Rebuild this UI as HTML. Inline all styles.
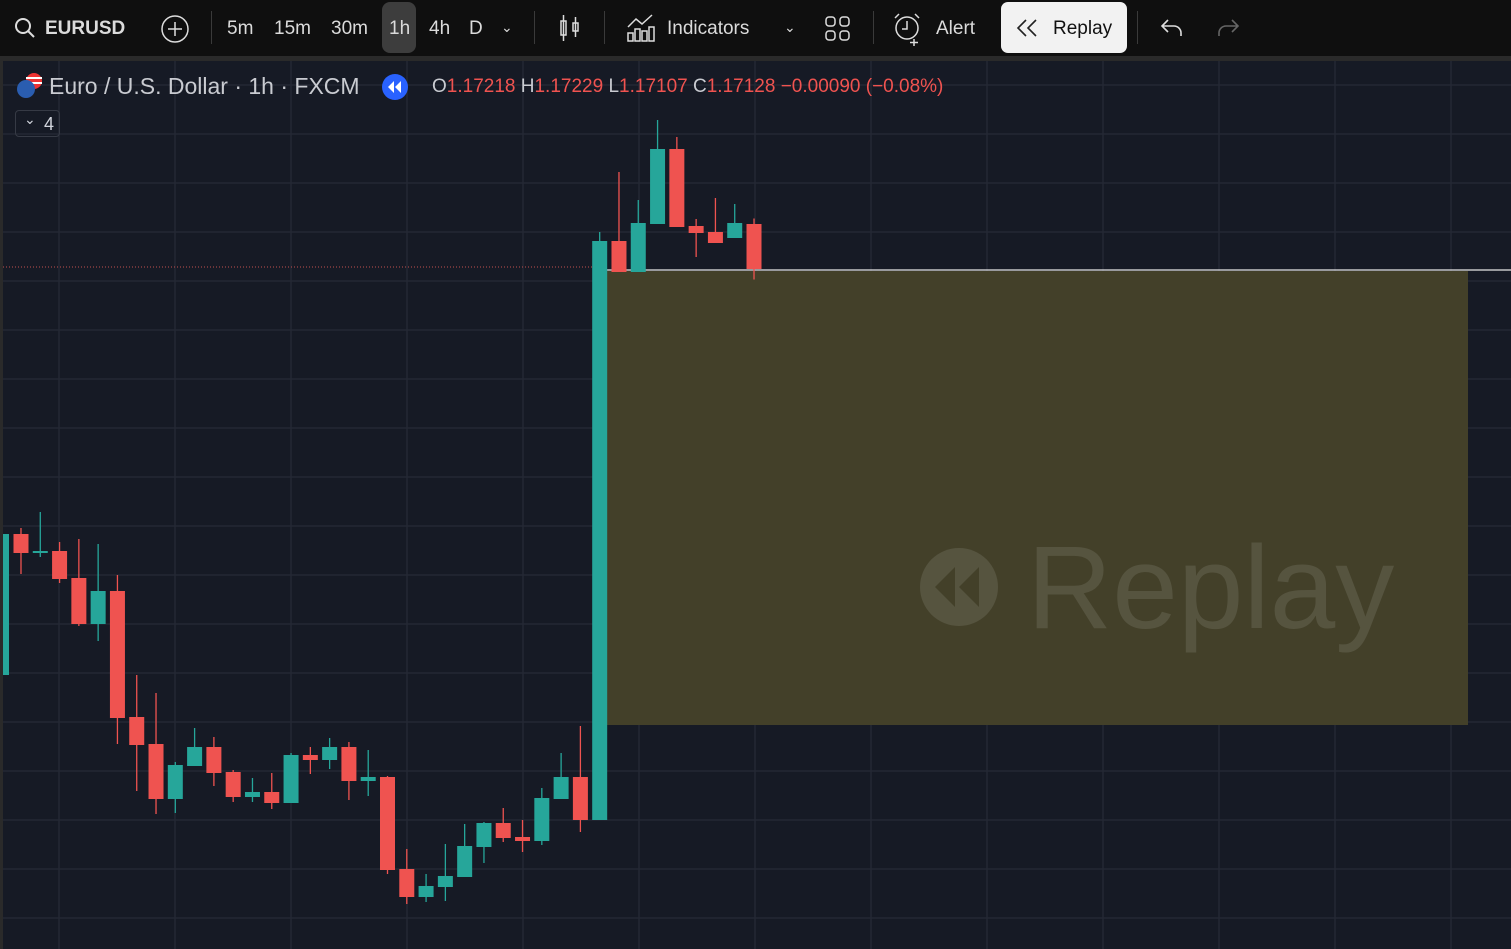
<!DOCTYPE html>
<html><head><meta charset="utf-8"><style>
body{margin:0;width:1511px;height:949px;overflow:hidden;background:#2a2a2a;font-family:"Liberation Sans",sans-serif}
#tb{position:absolute;left:0;top:0;width:1511px;height:56px;background:#0f0f0f;color:#dbdbdb;font-size:19px}
.t{position:absolute;top:18px;white-space:nowrap}
.sep{position:absolute;top:11px;width:1px;height:33px;background:#3a3a3a}
#chart{position:absolute;left:3px;top:61px;width:1508px;height:888px;background:#161a25}
</style></head><body>
<div id="tb">
 <svg class="t" style="left:14px;top:17px" width="22" height="22"><circle cx="9" cy="9" r="7" fill="none" stroke="#ddd" stroke-width="2"/><line x1="14" y1="14" x2="20" y2="20" stroke="#ddd" stroke-width="2"/></svg>
 <span class="t" style="left:45px;font-weight:bold">EURUSD</span>
 <svg class="t" style="left:160px;top:14px" width="30" height="30"><circle cx="15" cy="15" r="13" fill="none" stroke="#ddd" stroke-width="1.5"/><path d="M15 8v14M8 15h14" stroke="#ddd" stroke-width="1.5"/></svg>
 <div class="sep" style="left:211px"></div>
 <span class="t" style="left:227px">5m</span>
 <span class="t" style="left:274px">15m</span>
 <span class="t" style="left:331px">30m</span>
 <div style="position:absolute;left:382px;top:2px;width:34px;height:51px;background:#3d3d3d;border-radius:8px"></div>
 <span class="t" style="left:389px">1h</span>
 <span class="t" style="left:429px">4h</span>
 <span class="t" style="left:469px">D</span>
 <span class="t" style="left:501px;font-size:14px;top:19px">&#8964;</span>
 <div class="sep" style="left:534px"></div>
 <svg class="t" style="left:558px;top:13px" width="24" height="32"><g stroke="#ddd" stroke-width="1.5" fill="none"><rect x="3" y="8" width="5" height="14"/><line x1="5.5" y1="2" x2="5.5" y2="28"/><rect x="15" y="10" width="5" height="8"/><line x1="17.5" y1="4" x2="17.5" y2="24"/></g></svg>
 <div class="sep" style="left:604px"></div>
 <svg class="t" style="left:626px;top:13px" width="30" height="30"><g stroke="#ddd" stroke-width="1.5" fill="none"><path d="M2 14l8-8 6 5 10-9"/><rect x="2" y="20" width="5" height="8"/><rect x="9" y="16" width="5" height="12"/><rect x="16" y="18" width="5" height="10"/><rect x="23" y="14" width="5" height="14"/></g></svg>
 <span class="t" style="left:667px">Indicators</span>
 <span class="t" style="left:784px;font-size:14px;top:19px">&#8964;</span>
 <svg class="t" style="left:825px;top:16px" width="26" height="26"><g stroke="#ddd" stroke-width="1.5" fill="none"><rect x="1" y="1" width="9" height="9" rx="3"/><rect x="15" y="1" width="9" height="9" rx="3"/><rect x="1" y="15" width="9" height="9" rx="3"/><rect x="15" y="15" width="9" height="9" rx="3"/></g></svg>
 <div class="sep" style="left:873px"></div>
 <svg class="t" style="left:892px;top:12px" width="34" height="34"><g stroke="#ddd" stroke-width="1.5" fill="none"><circle cx="15" cy="16" r="11"/><path d="M15 9v8h-5M22 27v7M18 30.5h8M3 6l4-4M27 6l-4-4"/></g></svg>
 <span class="t" style="left:936px">Alert</span>
 <div style="position:absolute;left:1001px;top:2px;width:126px;height:51px;background:#f2f2f2;border-radius:7px">
  <svg style="position:absolute;left:14px;top:17px" width="24" height="18"><path d="M11 1L3 9l8 8M21 1l-8 8 8 8" stroke="#222" stroke-width="1.6" fill="none"/></svg>
  <span style="position:absolute;left:52px;top:16px;color:#111;font-size:19px">Replay</span></div>
 <div class="sep" style="left:1137px"></div>
 <svg class="t" style="left:1160px;top:17px" width="24" height="20"><path d="M8 3L2 9l6 6M2 9h12a7 7 0 0 1 7 7v3" stroke="#ddd" stroke-width="1.6" fill="none"/></svg>
 <svg class="t" style="left:1216px;top:17px" width="24" height="20"><path d="M16 3l6 6-6 6M22 9H10a7 7 0 0 0-7 7v3" stroke="#666" stroke-width="1.6" fill="none"/></svg>
</div>
<div id="chart">
<svg id="svg" width="1508" height="888" style="position:absolute;left:0;top:0"></svg>
</div>
<div style="position:absolute;left:16px;top:72px;width:28px;height:28px">
 <svg width="28" height="28"><circle cx="18" cy="9" r="8" fill="#e33"/><rect x="10" y="5" width="16" height="2" fill="#fff"/><rect x="10" y="10" width="16" height="2" fill="#fff"/><circle cx="10" cy="17" r="9" fill="#2a5db0"/></svg></div>
<div style="position:absolute;left:49px;top:73px;color:#c9cbd1;font-size:23px;white-space:nowrap">Euro / U.S. Dollar · 1h · FXCM</div>
<svg style="position:absolute;left:381px;top:73px" width="28" height="28"><circle cx="14" cy="14" r="13" fill="#2962ff"/><path d="M13 8l-6 6 6 6zM20 8l-6 6 6 6z" fill="#fff"/></svg>
<div style="position:absolute;left:432px;top:76px;font-size:19px;white-space:nowrap;color:#f05350"><span style="color:#c9cbd1">O</span>1.17218 <span style="color:#c9cbd1">H</span>1.17229 <span style="color:#c9cbd1">L</span>1.17107 <span style="color:#c9cbd1">C</span>1.17128 −0.00090 (−0.08%)</div>
<div style="position:absolute;left:15px;top:110px;width:45px;height:27px;border:1px solid #363a45;border-radius:4px;color:#d1d4dc;font-size:18px;box-sizing:border-box"><span style="position:absolute;left:8px;top:0px;font-size:14px">&#8964;</span><span style="position:absolute;left:28px;top:3px">4</span></div>
<script>
const opens=[1.16316,1.16598,1.16562,1.16564,1.16510,1.16418,1.16484,1.16232,1.16178,1.16068,1.16134,1.16172,1.16122,1.16072,1.16082,1.16060,1.16156,1.16146,1.16172,1.16104,1.16112,1.15928,1.15872,1.15892,1.15912,1.15972,1.16020,1.15992,1.15984,1.16068,1.16112,1.16026,1.17184,1.17122,1.17218,1.17368,1.17214,1.17202,1.17190,1.17218];
const highs=[1.16598,1.16610,1.16642,1.16582,1.16588,1.16578,1.16516,1.16316,1.16280,1.16142,1.16210,1.16192,1.16126,1.16110,1.16120,1.16160,1.16172,1.16190,1.16182,1.16166,1.16114,1.15968,1.15918,1.15978,1.16018,1.16022,1.16050,1.16026,1.16090,1.16160,1.16214,1.17202,1.17322,1.17266,1.17426,1.17392,1.17228,1.17270,1.17258,1.17229];
const lows=[1.16316,1.16518,1.16552,1.16500,1.16414,1.16384,1.16178,1.16084,1.16038,1.16040,1.16134,1.16094,1.16062,1.16062,1.16048,1.16060,1.16118,1.16128,1.16066,1.16074,1.15918,1.15858,1.15862,1.15864,1.15912,1.15940,1.15982,1.15962,1.15976,1.16068,1.16002,1.16026,1.17122,1.17122,1.17218,1.17212,1.17152,1.17180,1.17190,1.17107];
const closes=[1.16598,1.16560,1.16564,1.16508,1.16418,1.16484,1.16230,1.16176,1.16068,1.16136,1.16172,1.16120,1.16072,1.16082,1.16060,1.16156,1.16146,1.16172,1.16104,1.16112,1.15926,1.15872,1.15894,1.15914,1.15974,1.16020,1.15990,1.15984,1.16070,1.16112,1.16026,1.17184,1.17122,1.17220,1.17368,1.17212,1.17200,1.17180,1.17220,1.17128];
const NS="http://www.w3.org/2000/svg";
const svg=document.getElementById('svg');
const OX=3,OY=61;
function yS(p){return (269-(p-1.17128)*50000)-OY;}
function xS(i){return 1.7+19.29*i-OX;}
function mk(t,a){const e=document.createElementNS(NS,t);for(const k in a)e.setAttribute(k,a[k]);svg.appendChild(e);return e;}
for(let x=59;x<1511;x+=116){const g=mk('line',{x1:x-OX,y1:0,x2:x-OX,y2:888,stroke:'#242834','stroke-width':1.5});

}
for(let y=85;y<949;y+=49){const g=mk('line',{x1:0,y1:y-OY,x2:1508,y2:y-OY,stroke:'#242834','stroke-width':1.5});

}
const ov=mk('rect',{x:607-OX,y:271-OY,width:861,height:454,fill:'#434029'});


const wm=mk('g',{opacity:0.35});


const c=document.createElementNS(NS,'circle');c.setAttribute('cx',959-OX);c.setAttribute('cy',587-OY);c.setAttribute('r',39);c.setAttribute('fill','#7a7a6a');wm.appendChild(c);
const pth=document.createElementNS(NS,'path');pth.setAttribute('d',`M${955-OX} ${567-OY}l-20 20 20 20zM${979-OX} ${567-OY}l-20 20 20 20z`);pth.setAttribute('fill','#434029');wm.appendChild(pth);
const tx=document.createElementNS(NS,'text');tx.setAttribute('x',1027-OX);tx.setAttribute('y',628-OY);tx.setAttribute('font-size',118);tx.setAttribute('fill','#7a7a6a');tx.setAttribute('font-family','Liberation Sans, sans-serif');tx.textContent='Replay';wm.appendChild(tx);
const lastY=yS(closes[closes.length-1]);
const dl=mk('line',{x1:0,y1:lastY-2,x2:607-OX,y2:lastY-2,stroke:'#c05050','stroke-width':1,'stroke-dasharray':'1 2'});


const wl=mk('line',{x1:607-OX,y1:lastY+1,x2:1508,y2:lastY+1,stroke:'#e8e8e8','stroke-width':1.2});


for(let i=0;i<opens.length;i++){
 const up=closes[i]>=opens[i],col=up?'#26a69a':'#ef5350',x=xS(i);
 const w=mk('line',{x1:x,y1:yS(highs[i]),x2:x,y2:yS(lows[i]),stroke:col,'stroke-width':1.3});
 
 
 const t=yS(Math.max(opens[i],closes[i])),b=yS(Math.min(opens[i],closes[i]));
 const bw=i===0?6:15;const bx=i===0?0:x-7.5;
 const r=mk('rect',{x:bx,y:t,width:bw,height:Math.max(b-t,2),fill:col});
 
 
}
</script>
</body></html>
